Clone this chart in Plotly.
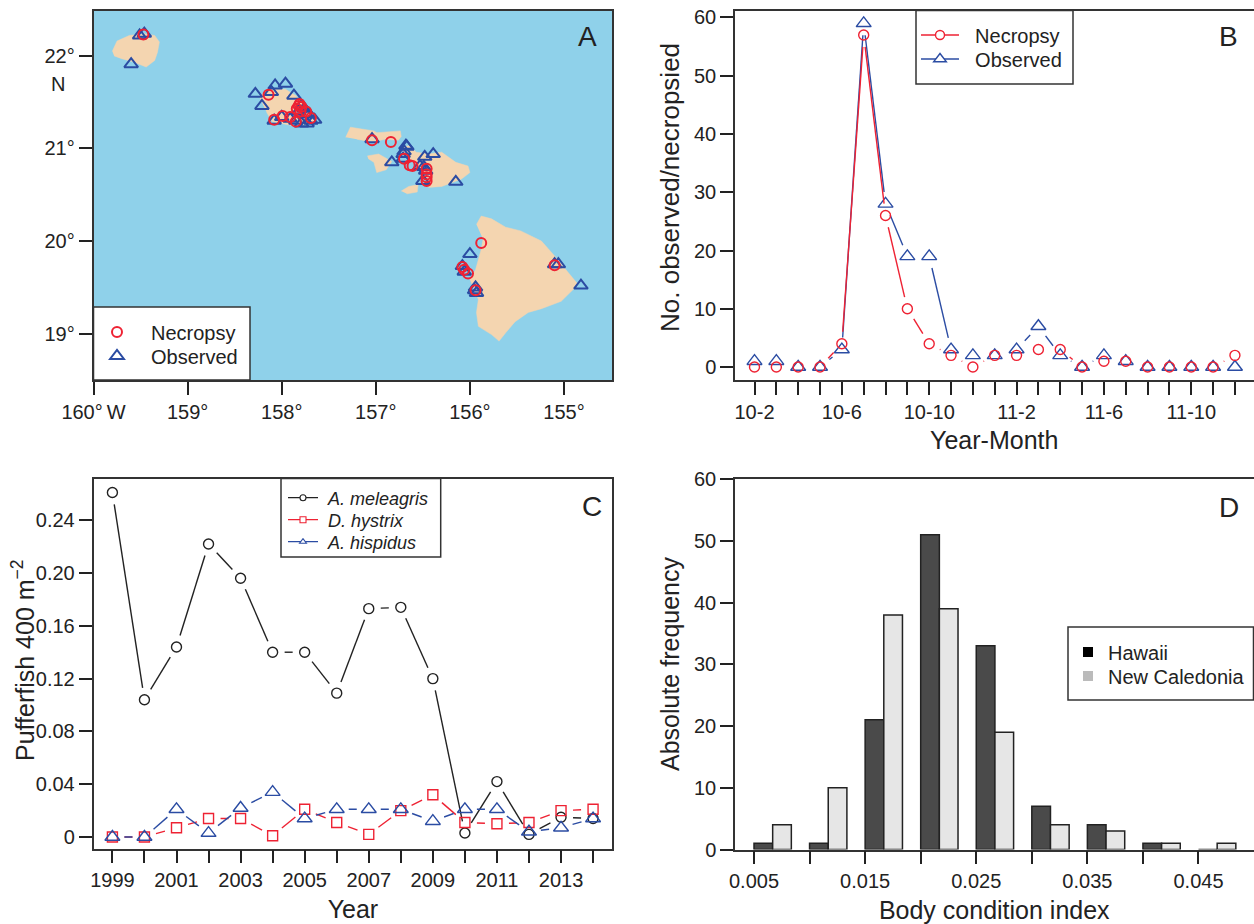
import math
import plotly.graph_objects as go

W, H = 1254, 924
INK = "#222222"
RED = "#ee2233"
BLUE = "#2b4ca3"
FONT = "Liberation Sans"

# ---------- Panel A: map (lon / lat) ----------
kauai_lon = [-159.80,-159.75,-159.62,-159.46,-159.35,-159.30,-159.32,-159.35,-159.44,-159.59,-159.70,-159.78]
kauai_lat = [22.05,22.16,22.22,22.24,22.22,22.15,22.04,21.95,21.88,21.94,21.97,22.0]
oahu_lon = [-158.24,-158.14,-157.96,-157.85,-157.79,-157.64,-157.85,-158.10,-158.16]
oahu_lat = [21.56,21.64,21.64,21.57,21.50,21.29,21.24,21.29,21.39]
molokai_lon = [-157.32,-157.27,-157.15,-157.02,-156.99,-156.74,-156.73,-156.76,-156.90,-157.04,-157.20]
molokai_lat = [21.12,21.23,21.21,21.19,21.17,21.19,21.13,21.09,21.10,21.07,21.10]
lanai_lon = [-157.09,-156.97,-156.83,-156.89,-156.99,-157.02,-157.08]
lanai_lat = [20.92,20.94,20.86,20.77,20.74,20.85,20.89]
kahoolawe_lon = [-156.73,-156.65,-156.55,-156.56,-156.67]
kahoolawe_lat = [20.54,20.59,20.61,20.53,20.51]
maui_lon = [-156.65,-156.57,-156.44,-156.30,-156.15,-156.02,-156.0,-156.09,-156.30,-156.44,-156.46,-156.51,-156.58,-156.65,-156.71,-156.71]
maui_lat = [21.03,20.96,20.94,20.96,20.85,20.81,20.74,20.67,20.59,20.58,20.69,20.76,20.85,20.89,20.92,21.03]
hawaii_lon = [-155.93,-155.88,-155.77,-155.62,-155.46,-155.24,-155.10,-154.85,-155.03,-155.24,-155.38,-155.52,-155.62,-155.69,-155.77,-155.91,-155.93,-155.91,-156.0,-155.94,-155.88,-155.86]
hawaii_lat = [20.18,20.27,20.24,20.15,20.11,20.0,19.84,19.53,19.35,19.27,19.23,19.13,19.01,18.92,18.99,19.08,19.23,19.37,19.59,19.69,19.91,20.02]
islands = [(kauai_lon, kauai_lat), (oahu_lon, oahu_lat), (molokai_lon, molokai_lat), (lanai_lon, lanai_lat),
           (kahoolawe_lon, kahoolawe_lat), (maui_lon, maui_lat), (hawaii_lon, hawaii_lat)]

obs_lon = [-159.51,-159.46,-159.60,-158.28,-158.21,-158.11,-158.07,-157.96,-157.87,-157.79,-157.82,-157.76,-157.74,
           -158.08,-158.00,-157.91,-157.85,-157.79,-157.73,-157.69,-157.65,-157.71,-157.04,-156.83,-156.68,-156.67,
           -156.70,-156.71,-156.71,-156.48,-156.39,-156.53,-156.49,-156.47,-156.50,-156.15,-156.0,-156.08,-156.06,
           -155.94,-155.95,-155.93,-155.10,-155.06,-154.82]
obs_lat = [22.22,22.24,21.91,21.59,21.46,21.61,21.68,21.70,21.57,21.46,21.40,21.43,21.37,21.30,21.34,21.32,21.30,21.27,
           21.27,21.30,21.31,21.37,21.10,20.85,21.03,21.02,20.97,20.94,20.89,20.91,20.94,20.81,20.80,20.76,20.65,20.64,
           19.86,19.73,19.67,19.50,19.47,19.44,19.75,19.75,19.52]
nec_lon = [-159.47,-158.14,-158.08,-157.99,-157.91,-157.85,-157.69,-157.82,-157.79,-157.84,-157.80,-157.81,-157.74,
           -157.04,-156.84,-156.70,-156.64,-156.61,-156.46,-156.46,-156.46,-156.46,-155.88,-156.08,-156.06,-156.02,
           -155.94,-155.10]
nec_lat = [22.23,21.58,21.31,21.35,21.34,21.29,21.33,21.46,21.45,21.43,21.40,21.48,21.40,21.09,21.07,20.89,20.82,20.81,
           20.78,20.72,20.69,20.65,19.98,19.72,19.69,19.65,19.47,19.74]
lon_ticks = [-160,-159,-158,-157,-156,-155]
lon_labels = ["160°\u2009W","159°","158°","157°","156°","155°"]
lat_ticks = [19,20,21,22]
lat_labels = ["19°","20°","21°","22°"]

# ---------- Panel B ----------
months = ["10-2","10-3","10-4","10-5","10-6","10-7","10-8","10-9","10-10","10-11","10-12","11-1",
          "11-2","11-3","11-4","11-5","11-6","11-7","11-8","11-9","11-10","11-11","11-12"]
necropsy = [0,0,0,0,4,57,26,10,4,2,0,2,2,3,3,0,1,1,0,0,0,0,2]
observed = [1,1,0,0,3,59,28,19,19,3,2,2,3,7,2,0,2,1,0,0,0,0,0]
month_labels = ["10-2","10-6","10-10","11-2","11-6","11-10"]

# ---------- Panel C ----------
years = list(range(1999, 2015))
meleagris = [0.261,0.104,0.144,0.222,0.196,0.140,0.140,0.109,0.173,0.174,0.120,0.003,0.042,0.002,0.015,0.014]
hystrix = [0,0,0.007,0.014,0.014,0.001,0.021,0.011,0.002,0.020,0.032,0.011,0.010,0.011,0.020,0.021]
hispidus = [0,0,0.021,0.003,0.022,0.034,0.014,0.021,0.021,0.021,0.012,0.021,0.021,0.004,0.007,0.014]
year_labels = ["1999","2001","2003","2005","2007","2009","2011","2013"]

# ---------- Panel D ----------
bin_starts = [0.005,0.010,0.015,0.020,0.025,0.030,0.035,0.040,0.045]
hawaii_freq = [1,1,21,51,33,7,4,1,0]
caledonia_freq = [4,10,38,39,19,4,3,1,1]
bin_labels = ["0.005","0.015","0.025","0.035","0.045"]

# ---------- geometry ----------
PANELS = {
    "a": dict(l=93.5, r=612, t=10.5, b=380, xr=[-160, -154.49], yr=[18.5, 22.49]),
    "b": dict(l=735, r=1253.5, t=10.5, b=380, xr=[-0.893, 22.85], yr=[-2.23, 61.2]),
    "c": dict(l=93.5, r=612.3, t=478.5, b=848.5, xr=[1998.41, 2014.6], yr=[-0.0087, 0.2716]),
    "d": dict(l=735, r=1253.5, t=478.5, b=849.5, xr=[0.00329, 0.04995], yr=[0, 60.1]),
}
def px(x): return x / W
def py(y): return 1 - y / H

def gapped(x, y, p, gap=12):
    """R type='b' line: segments stop short of each point, measured on the panel's scale."""
    sx = (p["r"] - p["l"]) / (p["xr"][1] - p["xr"][0])
    sy = (p["b"] - p["t"]) / (p["yr"][1] - p["yr"][0])
    xs, ys = [], []
    for i in range(len(x) - 1):
        dx, dy = (x[i+1] - x[i]) * sx, (y[i+1] - y[i]) * sy
        d = math.hypot(dx, dy)
        if d <= 2 * gap:
            continue
        f = gap / d
        xs += [x[i] + (x[i+1]-x[i]) * f, x[i+1] - (x[i+1]-x[i]) * f, None]
        ys += [y[i] + (y[i+1]-y[i]) * f, y[i+1] - (y[i+1]-y[i]) * f, None]
    return xs, ys

fig = go.Figure()

# Panel A
for lon, lat in islands:
    fig.add_trace(go.Scatter(x=lon, y=lat, mode="lines", fill="toself", fillcolor="#f4d5b0",
                             line=dict(color="#f4d5b0", width=0.5), showlegend=False, hoverinfo="skip",
                             xaxis="x", yaxis="y"))
fig.add_trace(go.Scatter(x=obs_lon, y=obs_lat, mode="markers", name="Observed", legend="legend2",
                         marker=dict(symbol="triangle-up-open", size=12, color=BLUE, line=dict(width=2, color=BLUE)),
                         xaxis="x", yaxis="y"))
fig.add_trace(go.Scatter(x=nec_lon, y=nec_lat, mode="markers", name="Necropsy", legend="legend",
                         marker=dict(symbol="circle-open", size=10, color=RED, line=dict(width=2, color=RED)),
                         xaxis="x", yaxis="y"))

# Panel B
xb = list(range(len(months)))
for vals, col, sym, size, nm in [(observed, BLUE, "triangle-up-open", 13, "Observed"),
                                 (necropsy, RED, "circle-open", 10, "Necropsy")]:
    lx, ly = gapped(xb, vals, PANELS["b"])
    fig.add_trace(go.Scatter(x=lx, y=ly, mode="lines", line=dict(color=col, width=1.4), showlegend=False,
                             hoverinfo="skip", xaxis="x2", yaxis="y2"))
    fig.add_trace(go.Scatter(x=xb, y=vals, mode="markers", name=nm, showlegend=False,
                             marker=dict(symbol=sym, size=size, color=col, line=dict(width=1.4, color=col)),
                             xaxis="x2", yaxis="y2"))
for nm, col, sym, size, lg in [("\u00a0\u00a0Necropsy", RED, "circle", 9, "legend3"),
                               ("\u00a0\u00a0Observed", BLUE, "triangle-up", 11, "legend4")]:
    fig.add_trace(go.Scatter(x=[None], y=[None], mode="lines+markers", name=nm, legend=lg,
                             line=dict(color=col, width=1.4),
                             marker=dict(symbol=sym, size=size, color="white", line=dict(width=1.4, color=col)),
                             xaxis="x2", yaxis="y2"))

# Panel C
for vals, col, sym, size, nm in [(meleagris, INK, "circle-open", 10, "A. meleagris"),
                                 (hystrix, RED, "square-open", 10, "D. hystrix"),
                                 (hispidus, BLUE, "triangle-up-open", 13, "A. hispidus")]:
    lx, ly = gapped(years, vals, PANELS["c"])
    fig.add_trace(go.Scatter(x=lx, y=ly, mode="lines", line=dict(color=col, width=1.4), showlegend=False,
                             hoverinfo="skip", xaxis="x3", yaxis="y3"))
    fig.add_trace(go.Scatter(x=years, y=vals, mode="markers", name=nm, showlegend=False,
                             marker=dict(symbol=sym, size=size, color=col, line=dict(width=1.4, color=col)),
                             xaxis="x3", yaxis="y3"))
for nm, col, sym, lg in [("\u00a0<i>A. meleagris</i>", INK, "circle", "legend5"),
                         ("\u00a0<i>D. hystrix</i>", RED, "square", "legend6"),
                         ("\u00a0<i>A. hispidus</i>", BLUE, "triangle-up", "legend7")]:
    fig.add_trace(go.Scatter(x=[None], y=[None], mode="lines+markers", name=nm, legend=lg,
                             line=dict(color=col, width=1.3),
                             marker=dict(symbol=sym, size=6, color="white", line=dict(width=1.1, color=col)),
                             xaxis="x3", yaxis="y3"))

# Panel D
BW = 0.00168
fig.add_trace(go.Bar(x=bin_starts, y=hawaii_freq, width=BW, offset=0, name="Hawaii", showlegend=False,
                     marker=dict(color="#4a4a4a", line=dict(color=INK, width=1.5)), xaxis="x4", yaxis="y4"))
fig.add_trace(go.Bar(x=bin_starts, y=caledonia_freq, width=BW, offset=BW, name="New Caledonia", showlegend=False,
                     marker=dict(color="#e6e6e6", line=dict(color=INK, width=1.5)), xaxis="x4", yaxis="y4"))
for nm, col, lg in [("Hawaii", "#000000", "legend8"), ("New Caledonia", "#bbbbbb", "legend9")]:
    fig.add_trace(go.Scatter(x=[None], y=[None], mode="markers", name=nm, legend=lg,
                             marker=dict(symbol="square", size=10, color=col), xaxis="x4", yaxis="y4"))

def axis(p, horizontal, anchor, minor_ticks=None, **kw):
    dom = [px(p["l"]), px(p["r"])] if horizontal else [py(p["b"]), py(p["t"])]
    rng = p["xr"] if horizontal else p["yr"]
    d = dict(domain=dom, range=rng, anchor=anchor, automargin=False, showgrid=False, zeroline=False, showline=True,
             mirror=True, linecolor="#333333", linewidth=1.5, ticks="outside", ticklen=13, tickwidth=1.5,
             tickcolor=INK, tickfont=dict(size=20, family=FONT, color=INK), tickangle=0, tickmode="array", **kw)
    if minor_ticks:
        d["minor"] = dict(tickmode="array", tickvals=minor_ticks, ticks="outside", ticklen=13, tickwidth=1.5,
                          tickcolor=INK, showgrid=False)
    return d

def ttl(text, standoff, size=25):
    return dict(text=text, font=dict(size=size, family=FONT, color=INK), standoff=standoff)

def leg(x, y, size, itemwidth=30):
    return dict(x=px(x), y=py(y), xanchor="left", yanchor="middle", bgcolor="rgba(0,0,0,0)", borderwidth=0,
                font=dict(size=size, family=FONT, color=INK), itemwidth=itemwidth)

def box(x0, y0, x1, y1):
    return dict(type="rect", xref="paper", yref="paper", x0=px(x0), x1=px(x1), y0=py(y1), y1=py(y0),
                fillcolor="white", line=dict(color="#333333", width=1.5), layer="above")

def letter(t, x, y):
    return dict(text=t, x=px(x), y=py(y), xref="paper", yref="paper", showarrow=False,
                font=dict(size=28, family=FONT, color=INK), xanchor="center", yanchor="middle")

def ytitle(t, x, y, size):
    return dict(text=t, x=px(x), y=py(y), xref="paper", yref="paper", showarrow=False, textangle=-90,
                font=dict(size=size, family=FONT, color=INK), xanchor="center", yanchor="middle")

A, B, C, D = PANELS["a"], PANELS["b"], PANELS["c"], PANELS["d"]
fig.update_layout(
    template="none",
    width=W, height=H, autosize=False, margin=dict(l=0, r=0, t=0, b=0, pad=0),
    paper_bgcolor="white", plot_bgcolor="white", hovermode="closest", barmode="overlay",
    font=dict(family=FONT, color=INK),
    xaxis=axis(A, True, "y", tickvals=lon_ticks, ticktext=lon_labels),
    yaxis=axis(A, False, "x", tickvals=lat_ticks, ticktext=lat_labels),
    xaxis2=axis(B, True, "y2", minor_ticks=xb, tickvals=xb[::4], ticktext=month_labels, title=ttl("Year-Month", 10)),
    yaxis2=axis(B, False, "x2", tickvals=[0,10,20,30,40,50,60]),
    xaxis3=axis(C, True, "y3", minor_ticks=years, tickvals=years[::2], ticktext=year_labels, title=ttl("Year", 10)),
    yaxis3=axis(C, False, "x3", tickvals=[0,0.04,0.08,0.12,0.16,0.20,0.24],
                ticktext=["0","0.04","0.08","0.12","0.16","0.20","0.24"]),
    xaxis4=axis(D, True, "y4", minor_ticks=bin_starts, tickvals=bin_starts[::2], ticktext=bin_labels,
                title=ttl("Body condition index", 10)),
    yaxis4=axis(D, False, "x4", tickvals=[0,10,20,30,40,50,60], title=ttl("Absolute frequency", 7)),
    legend=leg(83, 332, 20, 58), legend2=leg(83, 356, 20, 58),
    legend3=leg(916, 35, 20, 38), legend4=leg(916, 59, 20, 38),
    legend5=leg(283, 498, 18), legend6=leg(283, 520, 18), legend7=leg(283, 542, 18),
    legend8=leg(1068, 652, 20), legend9=leg(1068, 676, 20),
    shapes=[
        dict(type="rect", xref="x domain", yref="y domain", x0=0, x1=1, y0=0, y1=1,
             fillcolor="#8fd1ea", line=dict(width=0), layer="below"),
        box(93.5, 307, 250, 380), box(916, 10.5, 1073, 84), box(281, 478.5, 440.7, 557), box(1068, 627, 1253.5, 700),
    ],
    annotations=[
        letter("A", 587, 37), letter("B", 1228, 37), letter("C", 592, 506), letter("D", 1229, 507),
        dict(text="N", x=px(58), y=py(84), xref="paper", yref="paper", showarrow=False,
             font=dict(size=20, family=FONT, color=INK), xanchor="center", yanchor="middle"),
        ytitle("No. observed/necropsied", 670, 188, 26),
        ytitle("Pufferfish 400 m<sup>−2</sup>", 23, 660, 25),
    ],
)

fig.write_html("out.html", config=dict(displayModeBar=False),
               post_script="document.body.style.margin='0';document.body.style.overflow='hidden';")
